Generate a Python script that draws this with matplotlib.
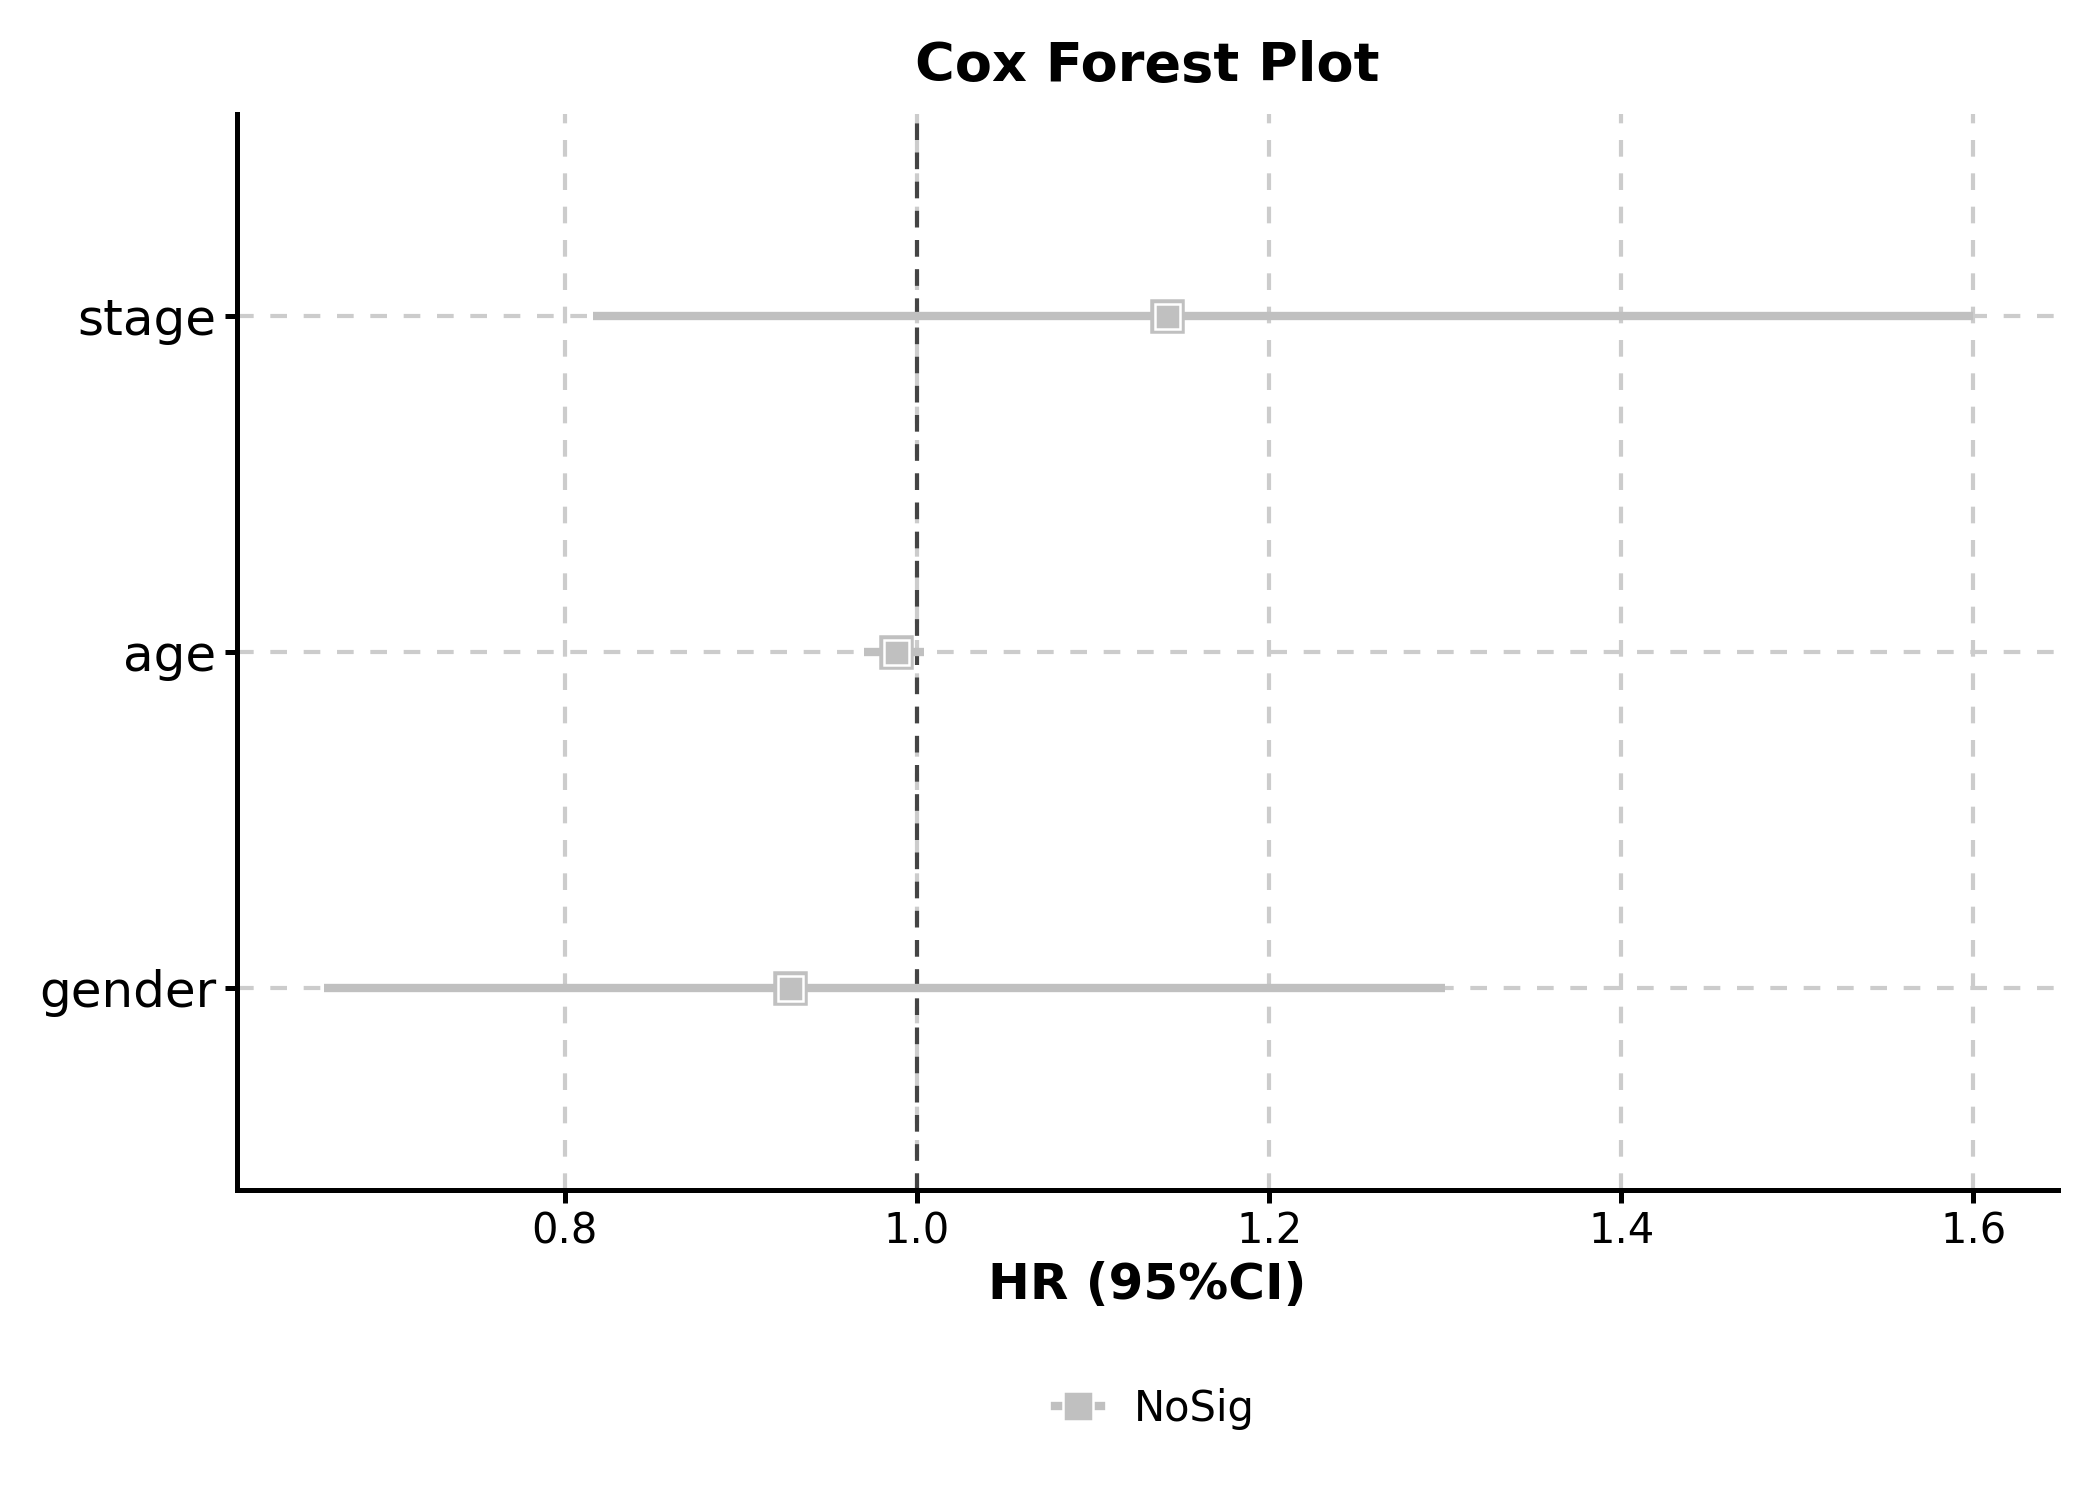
import matplotlib.pyplot as plt
from matplotlib.lines import Line2D

variables = ["gender", "age", "stage"]
hr = [0.928, 0.988, 1.142]
ci_low = [0.663, 0.970, 0.816]
ci_high = [1.300, 1.004, 1.600]
xticks = [0.8, 1.0, 1.2, 1.4, 1.6]

grey = "#C0C0C0"

fig, ax = plt.subplots(figsize=(7, 5), dpi=300)
fig.subplots_adjust(left=0.113, right=0.98, top=0.924, bottom=0.207)

ypos = list(range(len(variables)))

# grid
for x in xticks:
    ax.axvline(x, color="#CCCCCC", ls=(0, (4, 4)), lw=1.0, zorder=0)
for y in ypos:
    ax.axhline(y, color="#CCCCCC", ls=(0, (4, 4)), lw=1.0, zorder=0)
ax.axvline(1.0, color="#444444", ls=(0, (4, 3)), lw=1.0, zorder=1)

# confidence intervals
for y, lo, hi in zip(ypos, ci_low, ci_high):
    ax.plot([lo, hi], [y, y], color=grey, lw=2, solid_capstyle="butt", zorder=2)

# point estimates
ax.plot(hr, ypos, ls="none", marker="s", ms=7.5, mfc=grey, mec=grey, mew=0.6, zorder=3)
ax.plot(hr, ypos, ls="none", marker="s", ms=6, mfc=grey, mec="white", mew=0.6, zorder=4)

ax.set_xlim(0.614, 1.648)
ax.set_ylim(-0.6, 2.6)
ax.set_xticks(xticks)
ax.set_xticklabels([f"{x:.1f}" for x in xticks], fontsize=10)
ax.set_yticks(ypos)
ax.set_yticklabels(variables, fontsize=12)

for s in ["top", "right"]:
    ax.spines[s].set_visible(False)
for s in ["left", "bottom"]:
    ax.spines[s].set_linewidth(1.2)
ax.tick_params(width=1.2, length=3, pad=2)

ax.set_title("Cox Forest Plot", fontsize=13, fontweight="bold", pad=8)
ax.set_xlabel("HR (95%CI)", fontsize=12, fontweight="bold", labelpad=2)

handle = Line2D([], [], color=grey, lw=2, marker="s", ms=7, mfc=grey, mec="white", mew=0.6)
fig.legend([handle], ["NoSig"], loc="center", bbox_to_anchor=(0.55, 0.061),
           frameon=False, fontsize=10, handlelength=1.1)

fig.savefig("out.png", dpi=300)
